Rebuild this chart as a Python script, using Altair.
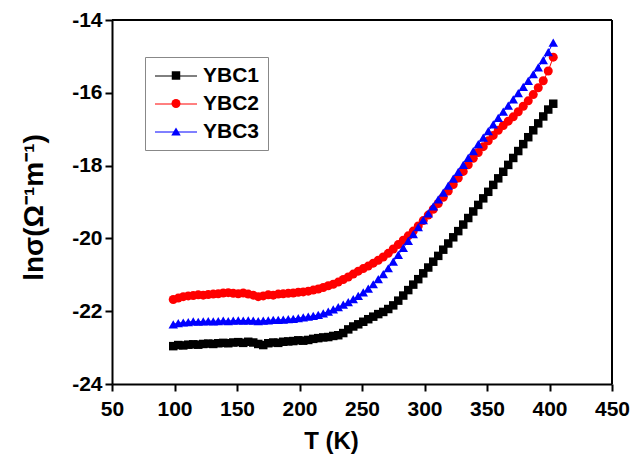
import altair as alt
import pandas as pd

# ---------------- data ----------------
T = [99, 103, 107, 111, 115, 119, 123, 127, 131, 135, 139, 143, 147, 151, 155, 159,
     163, 167, 171, 175, 179, 183, 187, 191, 195, 199, 203, 207, 211, 215, 219, 223,
     227, 231, 235, 239, 243, 247, 251, 255, 259, 263, 267, 271, 275, 279, 283, 287,
     291, 295, 299, 303, 307, 311, 315, 319, 323, 327, 331, 335, 339, 343, 347, 351,
     355, 359, 363, 367, 371, 375, 379, 383, 387, 391, 395, 399, 403]

ybc1 = [-22.96, -22.93, -22.94, -22.92, -22.91, -22.92, -22.90, -22.89, -22.90, -22.88,
        -22.87, -22.88, -22.86, -22.85, -22.87, -22.84, -22.86, -22.90, -22.93, -22.88,
        -22.86, -22.87, -22.84, -22.83, -22.82, -22.80, -22.81, -22.79, -22.76, -22.74,
        -22.72, -22.71, -22.68, -22.66, -22.60, -22.50, -22.42, -22.36, -22.29, -22.22,
        -22.15, -22.08, -22.02, -21.94, -21.84, -21.71, -21.57, -21.42, -21.27, -21.12,
        -20.96, -20.80, -20.64, -20.48, -20.31, -20.14, -19.97, -19.80, -19.62, -19.44,
        -19.26, -19.08, -18.90, -18.72, -18.53, -18.35, -18.17, -17.98, -17.79, -17.60,
        -17.41, -17.22, -17.03, -16.84, -16.65, -16.46, -16.30]

ybc2 = [-21.68, -21.64, -21.60, -21.58, -21.57, -21.55, -21.56, -21.54, -21.53, -21.52,
        -21.50, -21.49, -21.51, -21.52, -21.50, -21.53, -21.56, -21.60, -21.58, -21.55,
        -21.56, -21.53, -21.52, -21.51, -21.50, -21.48, -21.47, -21.45, -21.42, -21.39,
        -21.35, -21.30, -21.26, -21.20, -21.13, -21.06, -20.98, -20.90, -20.83, -20.76,
        -20.68, -20.60, -20.51, -20.41, -20.29, -20.17, -20.05, -19.93, -19.80, -19.66,
        -19.51, -19.36, -19.20, -19.04, -18.87, -18.70, -18.52, -18.34, -18.16, -17.98,
        -17.80, -17.64, -17.48, -17.32, -17.17, -17.03, -16.90, -16.78, -16.66, -16.52,
        -16.37, -16.22, -16.05, -15.86, -15.67, -15.40, -15.02]

ybc3 = [-22.36, -22.33, -22.31, -22.30, -22.28, -22.29, -22.28, -22.27, -22.28, -22.27,
        -22.26, -22.27, -22.26, -22.25, -22.26, -22.25, -22.26, -22.27, -22.26, -22.25,
        -22.24, -22.24, -22.23, -22.22, -22.21, -22.19, -22.17, -22.15, -22.13, -22.10,
        -22.06, -22.01, -21.95, -21.89, -21.82, -21.75, -21.67, -21.58, -21.48, -21.38,
        -21.26, -21.12, -20.98, -20.82, -20.64, -20.45, -20.26, -20.07, -19.88, -19.69,
        -19.50, -19.31, -19.12, -18.93, -18.74, -18.55, -18.36, -18.17, -17.98, -17.79,
        -17.60, -17.41, -17.23, -17.05, -16.87, -16.69, -16.52, -16.35, -16.18, -16.01,
        -15.84, -15.67, -15.49, -15.30, -15.10, -14.88, -14.62]

series_names = ["YBC1", "YBC2", "YBC3"]
series_colors = ["#000000", "#ff0000", "#0000ff"]
series_shapes = ["square", "circle", "triangle-up"]
series_sizes = [72, 90, 100]
x_domain = [50, 450]
y_domain = [-24, -14]
x_ticks = [50, 100, 150, 200, 250, 300, 350, 400, 450]
y_ticks = [-24, -22, -20, -18, -16, -14]

frames = []
for name, vals in zip(series_names, [ybc1, ybc2, ybc3]):
    frames.append(pd.DataFrame({"T": T, "v": vals, "series": name, "label": name}))
df = pd.concat(frames, ignore_index=True)

FONT = "Liberation Sans"
x_scale = alt.Scale(domain=x_domain, nice=False)
y_scale = alt.Scale(domain=y_domain, nice=False)

x_axis = alt.Axis(
    values=x_ticks, title="T (K)", grid=False,
    labelFont=FONT, labelFontSize=21, labelFontWeight="bold", labelColor="black",
    labelBaseline="alphabetic", labelPadding=24, labelFlush=False, labelOverlap=False,
    tickSize=7, tickWidth=2, tickColor="black",
    domainWidth=2, domainColor="black",
    titleFont=FONT, titleFontSize=24, titleFontWeight="bold", titleColor="black",
    titleX=219, titleY=64, titleBaseline="alphabetic", titleAlign="center",
)
y_axis = alt.Axis(
    values=y_ticks, title="lnσ(Ω⁻¹m⁻¹)", grid=False,
    labelExpr="'' + datum.value",
    labelFont=FONT, labelFontSize=21, labelFontWeight="bold", labelColor="black",
    labelPadding=3, labelFlush=False, labelOverlap=False,
    tickSize=7, tickWidth=2, tickColor="black",
    domainWidth=2, domainColor="black",
    titleFont=FONT, titleFontSize=28, titleFontWeight="bold", titleColor="black",
    titleX=-70, titleY=187, titleAngle=270, titleBaseline="alphabetic", titleAlign="center",
)

# legend box with markers and labels
legend_marks = alt.Legend(
    title=None,
    orient="none",
    legendX=33,
    legendY=37,
    symbolSize=70,
    symbolStrokeWidth=0,
    symbolOffset=12.5,
    padding=8,
    rowPadding=6,
    labelOffset=16.5,
    strokeColor="#888888",
    fillColor="white",
    labelFont=FONT,
    labelFontSize=21,
    labelFontWeight="bold",
    labelColor="black",
    zindex=0,
)

# line samples laid over the legend box (no box, no labels)
legend_lines = alt.Legend(
    title=None,
    orient="none",
    legendX=33,
    legendY=37,
    symbolType="stroke",
    symbolSize=1764,
    symbolStrokeWidth=1,
    symbolOffset=1.5,
    clipHeight=22,
    rowPadding=6,
    padding=8,
    labelExpr="''",
    labelFontSize=21,
    zindex=1,
)

base = alt.Chart(df)

lines = base.mark_line(strokeWidth=1).encode(
    x=alt.X("T:Q", scale=x_scale, axis=x_axis),
    y=alt.Y("v:Q", scale=y_scale, axis=y_axis),
    stroke=alt.Stroke("label:N", scale=alt.Scale(range=series_colors), legend=legend_lines),
    detail="series:N",
)

points = base.mark_point(filled=True, opacity=1, strokeWidth=0).encode(
    x=alt.X("T:Q", scale=x_scale, axis=x_axis),
    y=alt.Y("v:Q", scale=y_scale, axis=y_axis),
    color=alt.Color("series:N", scale=alt.Scale(domain=series_names, range=series_colors), legend=legend_marks),
    shape=alt.Shape("series:N", scale=alt.Scale(domain=series_names, range=series_shapes), legend=legend_marks),
    size=alt.Size("series:N", scale=alt.Scale(domain=series_names, range=series_sizes), legend=None),
)

# top and right edges of the plot frame, at the ends of the scale domains
edge = alt.Chart(pd.DataFrame({"edge": ["frame"]}))
top_edge = edge.mark_rule(color="black", strokeWidth=2).encode(
    x=alt.X(datum=x_domain[0], type="quantitative", scale=x_scale, axis=x_axis),
    x2=alt.X2(datum=x_domain[1]),
    y=alt.Y(datum=y_domain[1], type="quantitative", scale=y_scale, axis=y_axis),
)
right_edge = edge.mark_rule(color="black", strokeWidth=2).encode(
    x=alt.X(datum=x_domain[1], type="quantitative", scale=x_scale, axis=x_axis),
    y=alt.Y(datum=y_domain[0], type="quantitative", scale=y_scale, axis=y_axis),
    y2=alt.Y2(datum=y_domain[1]),
)

chart = (
    alt.layer(lines, points, top_edge, right_edge)
    .properties(
        width=500,
        height=364,
        autosize=alt.AutoSizeParams(type="none"),
        padding={"left": 112, "top": 20, "right": 20, "bottom": 70},
        background="white",
    )
    .configure_view(strokeWidth=0)
)

chart.save("out.html", embed_options={"renderer": "svg", "actions": False})
